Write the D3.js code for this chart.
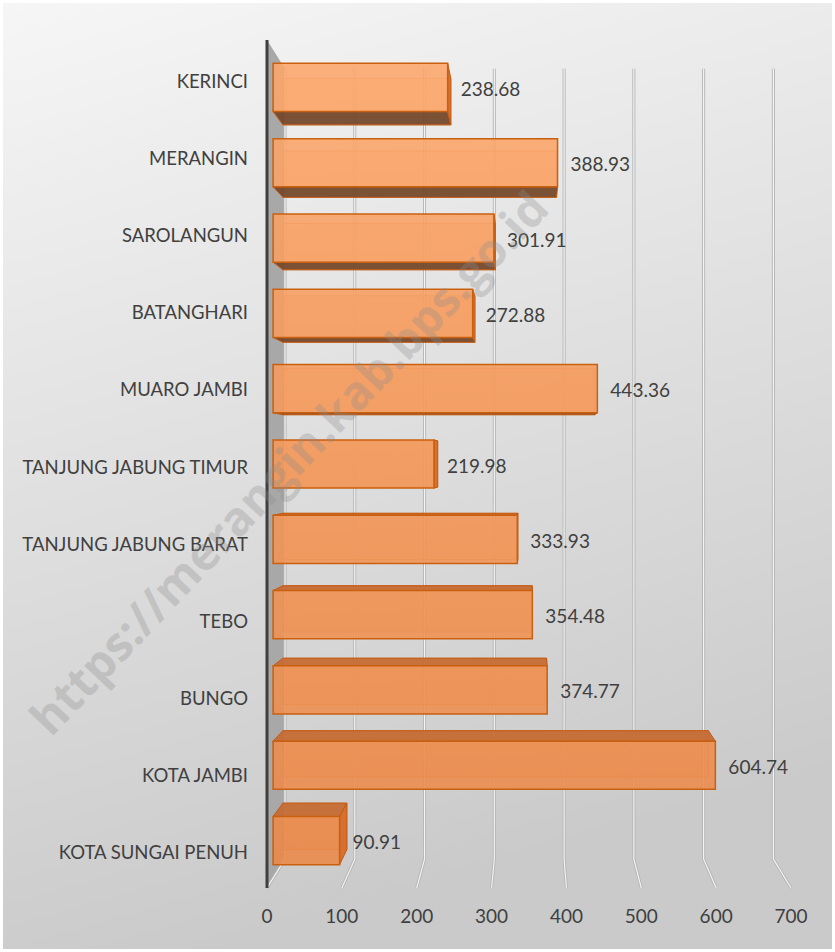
<!DOCTYPE html>
<html>
<head>
<meta charset="utf-8">
<script src="https://cdn.jsdelivr.net/npm/d3@7"></script>
<style>
  body { margin: 0; background: #fff; }
  svg { display: block; }
  text { font-family: Lato, "Open Sans", sans-serif; }
</style>
</head>
<body>
<script>
// data
var categories = ["KERINCI", "MERANGIN", "SAROLANGUN", "BATANGHARI", "MUARO JAMBI",
  "TANJUNG JABUNG TIMUR", "TANJUNG JABUNG BARAT", "TEBO", "BUNGO", "KOTA JAMBI", "KOTA SUNGAI PENUH"];
var values = [238.68, 388.93, 301.91, 272.88, 443.36, 219.98, 333.93, 354.48, 374.77, 604.74, 90.91];
var tickValues = [0, 100, 200, 300, 400, 500, 600, 700];

var w = 835, h = 952;

// front plane scales, depth is handled by scaling toward a vanishing point
var x = d3.scaleLinear().domain([0, 700]).range([267, 791]);
var y = d3.scaleBand().domain(categories).range([40, 888])
  .paddingInner(0.36).paddingOuter(0.18);

var vp = [532, 464];
var sBack = 0.932, sBarFront = 0.977, sBarBack = 0.94;

function proj(px, py, s) {
  return [vp[0] + (px - vp[0]) * s, vp[1] + (py - vp[1]) * s];
}
function poly(pts) { return "M" + pts.map(function (p) { return p.join(","); }).join("L") + "Z"; }

var svg = d3.select("body").append("svg").attr("width", w).attr("height", h);

var defs = svg.append("defs");
var bg = defs.append("linearGradient").attr("id", "bg")
  .attr("x1", 0).attr("y1", 0).attr("x2", 0.25).attr("y2", 1);
bg.append("stop").attr("offset", 0).attr("stop-color", "#f6f6f6");
bg.append("stop").attr("offset", 1).attr("stop-color", "#cacaca");

var barGrad = defs.append("linearGradient").attr("id", "barGrad")
  .attr("gradientUnits", "userSpaceOnUse")
  .attr("x1", 0).attr("y1", 40).attr("x2", 0).attr("y2", 888);
barGrad.append("stop").attr("offset", 0).attr("stop-color", "#fda86c");
barGrad.append("stop").attr("offset", 1).attr("stop-color", "#ea8747");

// background
svg.append("rect").attr("x", 3).attr("y", 3).attr("width", w - 6).attr("height", h - 6)
  .style("fill", "url(#bg)");

// left wall
var yTop = 40, yBottom = 888;
var wallPts = [[x(0), yTop], proj(x(0), yTop, sBack), proj(x(0), yBottom, sBack), [x(0), yBottom]];
svg.append("path").attr("d", poly(wallPts)).style("fill", "#a8a8a8");

// back wall gridlines + floor lines
var grid = svg.append("g").classed("grid", true);
tickValues.forEach(function (t) {
  var a = proj(x(t), yTop, sBack), b = proj(x(t), yBottom, sBack), c = [x(t), yBottom];
  var d = "M" + a + "L" + b + "L" + c;
  grid.append("path").attr("d", d).style("fill", "none")
    .style("stroke", "#b4b4b4").style("stroke-width", 3);
  grid.append("path").attr("d", d).style("fill", "none")
    .style("stroke", "#f4f4f4").style("stroke-width", 1.2);
});

// axis line
svg.append("line").attr("x1", x(0)).attr("x2", x(0)).attr("y1", yTop).attr("y2", yBottom)
  .style("stroke", "#3f3f3f").style("stroke-width", 3);

// bars
var bars = svg.append("g").classed("bars", true).selectAll(".bar")
  .data(categories.map(function (c, i) { return { cat: c, val: values[i] }; }))
  .enter().append("g").classed("bar", true);

bars.each(function (d) {
  var g = d3.select(this);
  var x0 = x(0), x1 = x(d.val), y0 = y(d.cat), y1 = y0 + y.bandwidth();
  var f = [proj(x0, y0, sBarFront), proj(x1, y0, sBarFront), proj(x1, y1, sBarFront), proj(x0, y1, sBarFront)];
  var b = [proj(x0, y0, sBarBack), proj(x1, y0, sBarBack), proj(x1, y1, sBarBack), proj(x0, y1, sBarBack)];

  // back face (seen through)
  g.append("path").attr("d", poly(b)).style("fill", "url(#barGrad)").style("fill-opacity", 0.35)
    .style("stroke", "#d0641c").style("stroke-width", 1).style("stroke-opacity", 0.6);

  // top or bottom face
  if (y1 < vp[1]) {
    g.append("path").attr("d", poly([f[3], f[2], b[2], b[3]]))
      .style("fill", "#6f4428").style("fill-opacity", 0.9)
      .style("stroke", "#c55a11").style("stroke-width", 1);
  } else if (y0 > vp[1]) {
    g.append("path").attr("d", poly([f[0], f[1], b[1], b[0]]))
      .style("fill", "#c46a33").style("fill-opacity", 0.92)
      .style("stroke", "#c55a11").style("stroke-width", 1);
  }
  // end face
  if (x1 < vp[0]) {
    g.append("path").attr("d", poly([f[1], b[1], b[2], f[2]]))
      .style("fill", "#d66d2a").style("fill-opacity", 0.95)
      .style("stroke", "#c55a11").style("stroke-width", 1);
  }
  // front face
  g.append("path").attr("d", poly(f)).style("fill", "url(#barGrad)").style("fill-opacity", 0.88)
    .style("stroke", "#c9600f").style("stroke-width", 1.5);

  // value label
  g.append("text")
    .attr("x", f[1][0] + 13)
    .attr("y", (f[1][1] + f[2][1]) / 2 + 1)
    .attr("dominant-baseline", "central")
    .style("font-size", "19px").style("fill", "#404040")
    .text(d3.format(".2f")(d.val));
});

// category labels
svg.append("g").selectAll("text").data(categories).enter().append("text")
  .attr("x", 248)
  .attr("y", function (d) { return y(d) + y.bandwidth() / 2 + 2.5; })
  .attr("text-anchor", "end").attr("dominant-baseline", "central")
  .style("font-size", "18.5px").style("fill", "#404040")
  .text(function (d) { return d; });

// value axis labels
svg.append("g").selectAll("text").data(tickValues).enter().append("text")
  .attr("x", function (d) { return x(d); })
  .attr("y", 915)
  .attr("text-anchor", "middle").attr("dominant-baseline", "central")
  .style("font-size", "19px").style("fill", "#404040")
  .text(function (d) { return d; });

// watermark over everything, semi transparent
svg.append("text")
  .attr("transform", "translate(288,462) rotate(-46.5)")
  .attr("text-anchor", "middle").attr("dominant-baseline", "central")
  .style("font-family", "'Open Sans', sans-serif")
  .style("font-weight", "bold").style("font-size", "47px")
  .style("fill", "#8c8c8c").style("opacity", 0.3)
  .text("https://merangin.kab.bps.go.id");
</script>
</body>
</html>
